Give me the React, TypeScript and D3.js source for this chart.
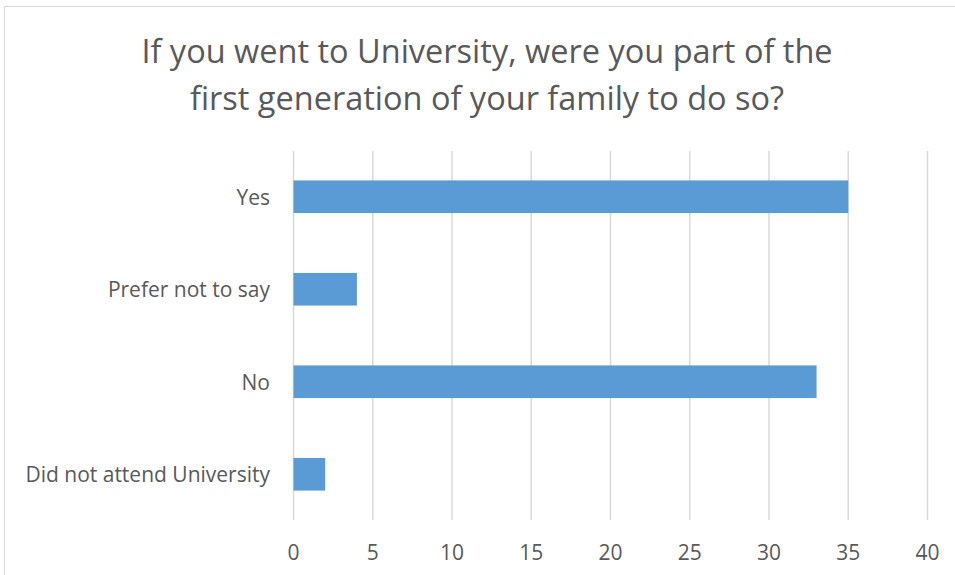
import React from "react";
import * as d3 from "d3";

const categories = ["Yes", "Prefer not to say", "No", "Did not attend University"];
const values = [35, 4, 33, 2];
const xTicks = [0, 5, 10, 15, 20, 25, 30, 35, 40];
const titleLines = [
  "If you went to University, were you part of the",
  "first generation of your family to do so?",
];

const W = 955;
const H = 575;
const FONT = "'Open Sans', 'Liberation Sans', sans-serif";
const TXT = "#595959";

export default function App() {
  const x = d3.scaleLinear().domain([0, 40]).range([293.5, 927.5]);
  const y = d3.scaleBand<string>().domain(categories).range([151, 520]).paddingInner(0.647).paddingOuter(0.318);
  return (
    <svg width={W} height={H} style={{ position: "absolute", left: 0, top: 0, background: "#fff" }}>
      <rect x={4.5} y={6.5} width={W + 20} height={H + 20} fill="#fff" stroke="#d9d9d9" strokeWidth={1} />
      {titleLines.map((t, i) => (
        <text key={i} x={487} y={50 + i * 47} textAnchor="middle" dominantBaseline="central" fontFamily={FONT} fontSize={32.5} fill={TXT}>
          {t}
        </text>
      ))}
      {xTicks.map((t) => (
        <line key={t} x1={x(t)} x2={x(t)} y1={151} y2={520} stroke="#d9d9d9" strokeWidth={1.5} />
      ))}
      {categories.map((c, i) => (
        <rect key={c} x={x(0)} y={y(c)} width={x(values[i]) - x(0)} height={y.bandwidth()} fill="#5b9bd5" />
      ))}
      {categories.map((c) => (
        <text key={c} x={270} y={(y(c) as number) + y.bandwidth() / 2} textAnchor="end" dominantBaseline="central" fontFamily={FONT} fontSize={21} fill={TXT}>
          {c}
        </text>
      ))}
      {xTicks.map((t) => (
        <text key={t} x={x(t)} y={552} textAnchor="middle" dominantBaseline="central" fontFamily={FONT} fontSize={21} fill={TXT}>
          {t}
        </text>
      ))}
    </svg>
  );
}
